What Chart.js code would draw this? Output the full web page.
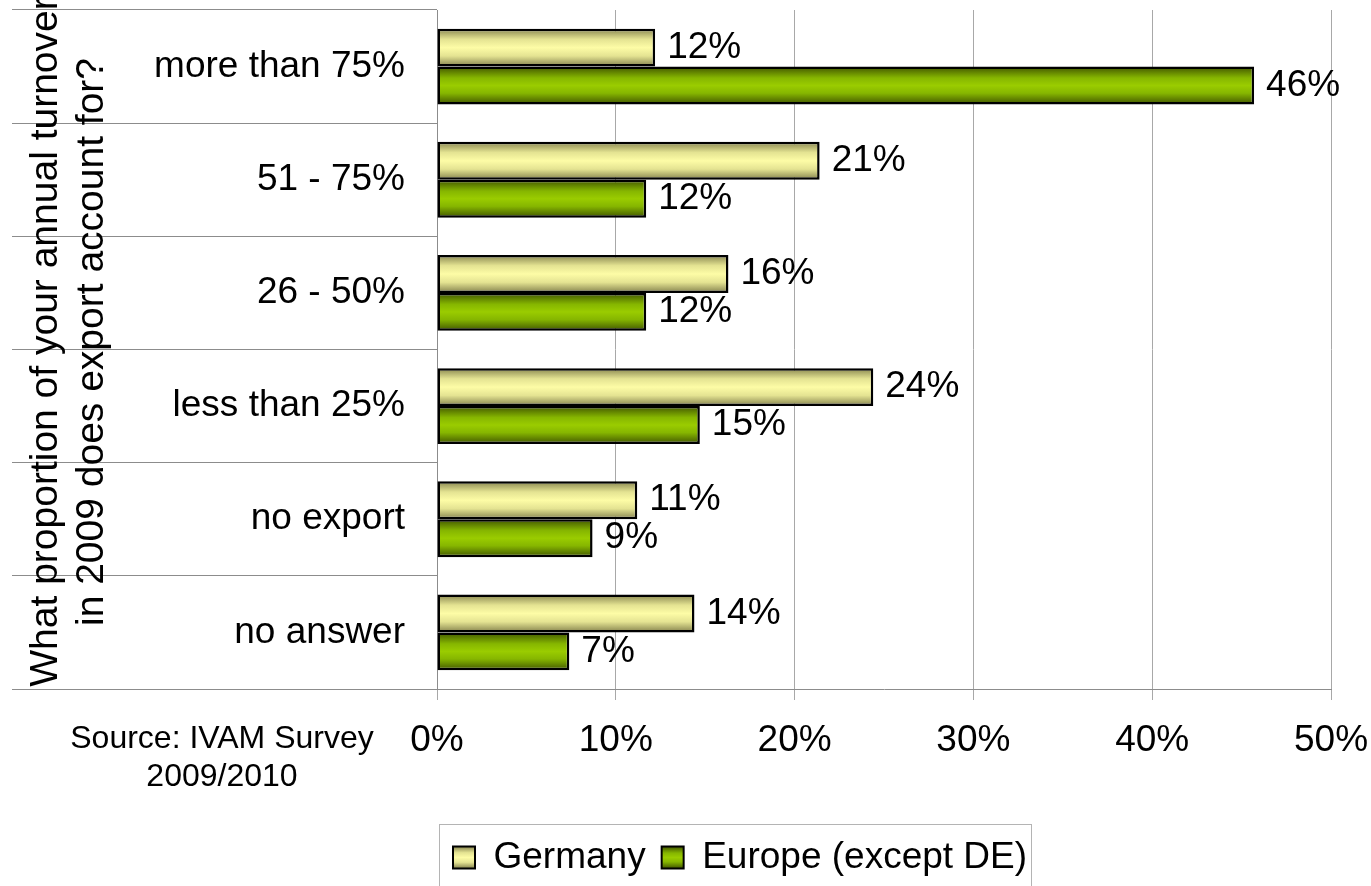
<!DOCTYPE html>
<html>
<head>
<meta charset="utf-8">
<title>Export share of annual turnover 2009</title>
<script src="https://cdn.jsdelivr.net/npm/chart.js@4/dist/chart.umd.min.js"></script>
<style>
  html, body { margin: 0; padding: 0; background: #ffffff; }
  canvas { display: block; }
</style>
</head>
<body>
<canvas id="chart" width="1371" height="886"></canvas>
<script>
// Answer groups (top to bottom) and the share of respondents per group, in percent
const categories = ['more than 75%', '51 - 75%', '26 - 50%', 'less than 25%', 'no export', 'no answer'];
const germany = [12.2, 21.4, 16.3, 24.4, 11.2, 14.4];
const europe = [45.7, 11.7, 11.7, 14.7, 8.7, 7.4];
const seriesNames = ['Germany', 'Europe (except DE)'];
const xTicks = [0, 10, 20, 30, 40, 50];
const axisTitle = ['What proportion of your annual turnover', 'in 2009 does export account for?'];
const sourceNote = ['Source: IVAM Survey', '2009/2010'];

const FONT = '"Liberation Sans", Arial, Helvetica, sans-serif';
const TEXT_SIZE = 37;
const CATEGORY_SHARE = 0.67;

// Shaded fills: dark edge -> bright middle -> dark edge across the bar thickness
const shades = [
  [[0, '#86844e'], [0.28, '#e4e392'], [0.5, '#fdfca6'], [0.72, '#e4e392'], [1, '#82804c']],
  [[0, '#405400'], [0.3, '#86b600'], [0.5, '#9acc00'], [0.7, '#86b600'], [1, '#405400']]
];
const flatShades = ['#ecea98', '#8ab800'];

function makeGradient(ctx, stops, top, height) {
  const g = ctx.createLinearGradient(0, top, 0, top + height);
  stops.forEach(([o, c]) => g.addColorStop(o, c));
  return g;
}

function barFill(seriesIndex) {
  return (context) => {
    const chart = context.chart;
    const ys = chart.scales.y;
    if (context.type !== 'data' || !ys || !Number.isFinite(ys.bottom)) return flatShades[seriesIndex];
    const slot = (ys.bottom - ys.top) / categories.length * CATEGORY_SHARE / 2;
    const center = ys.getPixelForValue(context.dataIndex) + (seriesIndex === 0 ? -1 : 1) * slot / 2;
    return makeGradient(chart.ctx, shades[seriesIndex], center - slot / 2, slot);
  };
}

// Percentage printed just right of every bar
const valueLabels = {
  id: 'valueLabels',
  afterDatasetsDraw(chart) {
    const ctx = chart.ctx;
    ctx.save();
    ctx.font = `${TEXT_SIZE}px ${FONT}`;
    ctx.fillStyle = '#000';
    ctx.textAlign = 'left';
    ctx.textBaseline = 'middle';
    chart.data.datasets.forEach((ds, di) => {
      chart.getDatasetMeta(di).data.forEach((bar, i) => {
        ctx.fillText(Math.round(ds.data[i]) + '%', bar.x + 12, bar.y);
      });
    });
    ctx.restore();
  }
};

// Rotated question text on the left and the source note under the category column
const sideText = {
  id: 'sideText',
  afterDraw(chart) {
    const ctx = chart.ctx;
    ctx.save();
    ctx.fillStyle = '#000';
    ctx.font = `39px ${FONT}`;
    ctx.textAlign = 'center';
    ctx.textBaseline = 'alphabetic';
    ctx.translate(57, 342);
    ctx.rotate(-Math.PI / 2);
    axisTitle.forEach((line, i) => ctx.fillText(line, 0, i * 46));
    ctx.restore();

    ctx.save();
    ctx.fillStyle = '#000';
    ctx.font = `32px ${FONT}`;
    ctx.textAlign = 'center';
    ctx.textBaseline = 'middle';
    sourceNote.forEach((line, i) => ctx.fillText(line, 222, 739 + i * 38));
    ctx.restore();
  }
};

// Thin frame around the legend entries
const legendFrame = {
  id: 'legendFrame',
  afterDraw(chart) {
    const lg = chart.legend;
    if (!lg || !lg.legendHitBoxes || !lg.legendHitBoxes.length) return;
    const hb = lg.legendHitBoxes;
    const left = Math.round(hb[0].left - 14);
    const last = hb[hb.length - 1];
    const right = Math.round(last.left + last.width + 4);
    const ctx = chart.ctx;
    ctx.save();
    ctx.strokeStyle = '#b4b4b4';
    ctx.lineWidth = 1;
    ctx.strokeRect(left + 0.5, Math.round(lg.top + 1) + 0.5, right - left, chart.height);
    ctx.restore();
  }
};

Chart.defaults.font.family = FONT;
Chart.defaults.color = '#000';

new Chart(document.getElementById('chart'), {
  type: 'bar',
  data: {
    labels: categories,
    datasets: [
      { label: seriesNames[0], data: germany, backgroundColor: barFill(0) },
      { label: seriesNames[1], data: europe, backgroundColor: barFill(1) }
    ]
  },
  options: {
    indexAxis: 'y',
    responsive: false,
    animation: false,
    devicePixelRatio: 1,
    layout: { padding: { left: 12, top: 10, right: 40, bottom: 0 } },
    datasets: {
      bar: {
        categoryPercentage: CATEGORY_SHARE,
        barPercentage: 1,
        borderColor: '#000',
        borderWidth: 2.5,
        borderSkipped: false
      }
    },
    scales: {
      x: {
        min: xTicks[0],
        max: xTicks[xTicks.length - 1],
        ticks: {
          stepSize: xTicks[1] - xTicks[0],
          callback: (v) => v + '%',
          color: '#000',
          font: { size: TEXT_SIZE },
          padding: 19,
          maxRotation: 0
        },
        grid: { color: '#a8a8a8', lineWidth: 1, tickLength: 11 },
        border: { color: '#8c8c8c', width: 1 },
        afterFit: (s) => { s.height = 134; s.paddingRight = 0; s.paddingLeft = 0; }
      },
      y: {
        ticks: { color: '#000', font: { size: TEXT_SIZE }, padding: -393, autoSkip: false },
        grid: { offset: true, drawOnChartArea: false, tickLength: 425, color: '#8c8c8c', lineWidth: 1 },
        border: { color: '#8c8c8c', width: 1 },
        afterFit: (s) => { s.width = 425; s.paddingTop = 0; s.paddingBottom = 0; }
      }
    },
    plugins: {
      tooltip: { enabled: false },
      legend: {
        position: 'bottom',
        fullSize: false,
        align: 'start',
        labels: {
          color: '#000',
          font: { size: TEXT_SIZE },
          boxWidth: 22,
          boxHeight: 22,
          padding: 16,
          generateLabels(chart) {
            const items = Chart.defaults.plugins.legend.labels.generateLabels(chart);
            const lg = chart.legend;
            const ready = lg && Number.isFinite(lg.top);
            items.forEach((it, i) => {
              it.fillStyle = ready
                ? makeGradient(chart.ctx, shades[i], lg.top + 16 + (TEXT_SIZE - 22) / 2, 22)
                : flatShades[i];
              it.strokeStyle = '#000';
              it.lineWidth = 2;
            });
            return items;
          }
        }
      }
    }
  },
  plugins: [valueLabels, sideText, legendFrame]
});
</script>
</body>
</html>
